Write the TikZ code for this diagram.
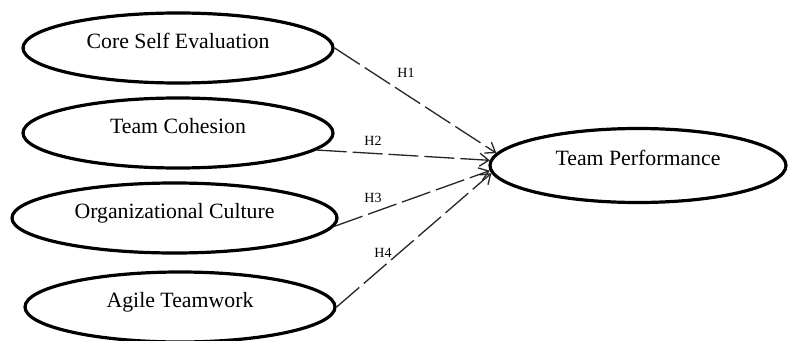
\documentclass[tikz,border=0pt]{standalone}
\usepackage{fontspec}
\setmainfont{Liberation Serif}
\usetikzlibrary{shapes.geometric,arrows.meta}
\tikzset{
  construct/.style={draw=black, line width=3.2pt, ellipse, inner sep=0pt,
    minimum width=#1, minimum height=70pt, text height=16pt, text depth=16pt,
    font=\fontsize{21.8}{26}\selectfont},
  path arrow/.style={draw=black!85, line width=1.3pt, dash pattern=on 30pt off 6pt,
    -{Straight Barb[length=9pt,width=13pt,line width=1.3pt]}},
  hlabel/.style={font=\fontsize{14}{16}\selectfont, inner sep=0pt}
}
\begin{document}
\begin{tikzpicture}[x=1pt,y=-1pt]
  \fill[white] (0,0) rectangle (789,340);
  \useasboundingbox (0,0) rectangle (789,340);
  \node[construct=310pt] (cse) at (178,48) {Core Self Evaluation};
  \node[construct=310pt] (tc) at (178,133) {Team Cohesion};
  \node[construct=325pt] (oc) at (174.5,218) {Organizational Culture};
  \node[construct=310pt] (at) at (180,307) {Agile Teamwork};
  \node[construct=296pt, minimum height=74pt] (tp) at (638,165.5) {Team Performance};
  \draw[path arrow] (cse.east) -- (tp.175);
  \draw[path arrow] (tc.-7) -- (tp.178.5);
  \draw[path arrow] (oc.-3) -- (tp.182);
  \draw[path arrow] (at.east) -- (tp.183.5);
  \node[hlabel] (h1) at (406,73) {H1};
  \node[hlabel] (h2) at (373,141) {H2};
  \node[hlabel] (h3) at (373,198) {H3};
  \node[hlabel] (h4) at (383,253) {H4};
\end{tikzpicture}
\end{document}
